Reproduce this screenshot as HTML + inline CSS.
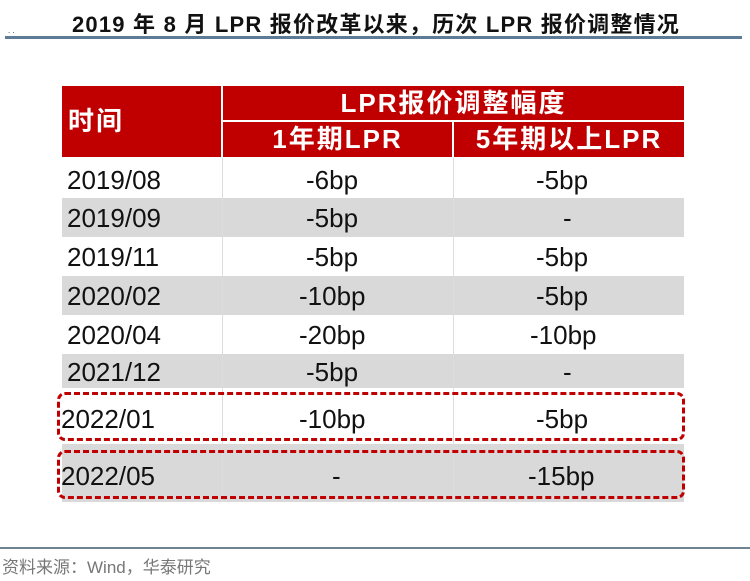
<!DOCTYPE html>
<html><head><meta charset="utf-8"><style>
body{margin:0;width:750px;height:581px;background:#fff;position:relative;overflow:hidden;font-family:"Liberation Sans","Noto Sans CJK SC",sans-serif}
.t{position:absolute;left:72px;top:7px;white-space:nowrap;font-size:22px;font-weight:bold;color:#111;letter-spacing:1.2px}
.ul{position:absolute;left:5px;top:36px;width:737px;height:3px;background:#5d7a97}
.d{position:absolute;font-size:26px;color:#111}
.r{position:absolute;left:62px;width:622px}
.h{position:absolute;background:#c00000;color:#fff;font-weight:bold;text-align:center;letter-spacing:2px}
.v{position:absolute;width:1px;background:#ddd}
.box{position:absolute;border:3px dashed #c00000;border-radius:8px;box-sizing:border-box}
.f{position:absolute;left:0;top:547px;width:750px;height:2px;background:#6f8390}
.ft{position:absolute;left:2px;top:553px;font-size:17px;color:#777}
</style></head><body>
<div class="t">2019 年 8 月 LPR 报价改革以来，历次 LPR 报价调整情况</div>
<div style="position:absolute;left:8px;top:26px;font-size:8px;color:#333">. .</div>
<div class="ul"></div>

<div class="h" style="left:62px;top:86px;width:159px;height:71px;text-align:left;font-size:26px;line-height:71px;padding-left:6px;box-sizing:border-box">时间</div>
<div class="h" style="left:223px;top:86px;width:461px;height:34px;font-size:26px;line-height:34px">LPR报价调整幅度</div>
<div class="h" style="left:223px;top:122px;width:229px;height:35px;font-size:26px;line-height:35px">1年期LPR</div>
<div class="h" style="left:454px;top:122px;width:230px;height:35px;font-size:26px;line-height:35px">5年期以上LPR</div>

<div class="r" style="top:158px;height:40px;background:#fff"></div>
<div class="r" style="top:198px;height:39px;background:#d9d9d9"></div>
<div class="r" style="top:237px;height:39px;background:#fff"></div>
<div class="r" style="top:276px;height:39px;background:#d9d9d9"></div>
<div class="r" style="top:315px;height:39px;background:#fff"></div>
<div class="r" style="top:354px;height:34px;background:#d9d9d9"></div>
<div class="r" style="top:388px;height:56px;background:#fff"></div>
<div class="r" style="top:444px;height:58px;background:#d9d9d9"></div>
<div class="v" style="left:222px;top:158px;height:344px"></div>
<div class="v" style="left:453px;top:158px;height:344px"></div>

<div class="d" style="left:67px;top:165px">2019/08</div><div class="d" style="left:306px;top:165px">-6bp</div><div class="d" style="left:536px;top:165px">-5bp</div>
<div class="d" style="left:67px;top:203px">2019/09</div><div class="d" style="left:306px;top:203px">-5bp</div><div class="d" style="left:563px;top:203px">-</div>
<div class="d" style="left:67px;top:242px">2019/11</div><div class="d" style="left:306px;top:242px">-5bp</div><div class="d" style="left:536px;top:242px">-5bp</div>
<div class="d" style="left:67px;top:281px">2020/02</div><div class="d" style="left:299px;top:281px">-10bp</div><div class="d" style="left:536px;top:281px">-5bp</div>
<div class="d" style="left:67px;top:320px">2020/04</div><div class="d" style="left:299px;top:320px">-20bp</div><div class="d" style="left:530px;top:320px">-10bp</div>
<div class="d" style="left:67px;top:357px">2021/12</div><div class="d" style="left:306px;top:357px">-5bp</div><div class="d" style="left:563px;top:357px">-</div>
<div class="d" style="left:61px;top:404px">2022/01</div><div class="d" style="left:299px;top:404px">-10bp</div><div class="d" style="left:536px;top:404px">-5bp</div>
<div class="d" style="left:61px;top:461px">2022/05</div><div class="d" style="left:332px;top:461px">-</div><div class="d" style="left:528px;top:461px">-15bp</div>

<div class="box" style="left:57px;top:392px;width:628px;height:49px"></div>
<div class="box" style="left:57px;top:450px;width:628px;height:49px"></div>

<div class="f"></div>
<div class="ft">资料来源：Wind，华泰研究</div>
</body></html>
